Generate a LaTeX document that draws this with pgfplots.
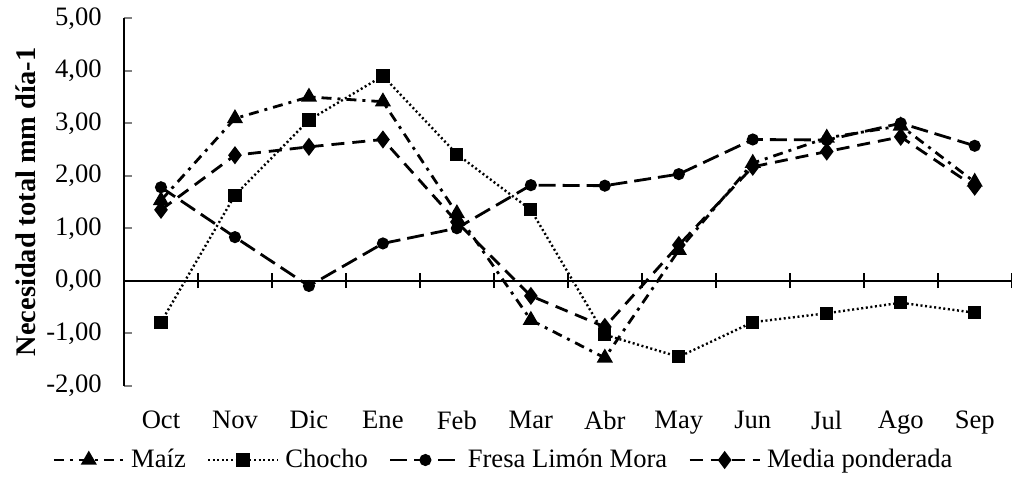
\documentclass[border=0pt]{standalone}
\usepackage{pgfplots}
\pgfplotsset{compat=1.18}
\usepackage{fontspec}
\setmainfont{Liberation Serif}
\begin{document}
\begin{tikzpicture}
\begin{axis}[
  at={(0pt,0pt)}, anchor=south west,
  scale only axis,
  width=443.85pt, height=183.75pt,
  xmin=0.5, xmax=12.5,
  ymin=-2, ymax=5,
  clip=false,
  axis y line*=left,
  axis x line*=bottom,
  x axis line style={draw=none},
  y axis line style={line width=0.8pt},
  xtick={1,...,12},
  xticklabels={Oct,Nov,Dic,Ene,Feb,Mar,Abr,May,Jun,Jul,Ago,Sep},
  xtick style={draw=none},
  ytick={-2,-1,0,1,2,3,4,5},
  ytick style={line width=0.8pt},
  tick align=inside,
  major tick length=4pt,
  /pgf/number format/assume math mode=true,
  yticklabel style={/pgf/number format/fixed, /pgf/number format/fixed zerofill, /pgf/number format/precision=2, /pgf/number format/use comma, /pgf/number format/1000 sep={}},
  tick label style={font=\fontsize{13.3pt}{16pt}\selectfont},
  xticklabel style={yshift=-9pt},
  yticklabel style={xshift=-7.6pt},
  ylabel={Necesidad total mm día-1},
  ylabel style={at={(axis description cs:-0.1104,0.5)}, anchor=center, font=\fontsize{14.2pt}{17pt}\selectfont\bfseries},
  legend columns=4,
  legend style={at={(axis description cs:-0.0811,-0.2022)}, anchor=west, draw=none, inner sep=0pt, fill=none,
    font=\fontsize{13.3pt}{16pt}\selectfont,
    nodes={inner sep=0pt},
    /tikz/every odd column/.append style={column sep=3pt},
    /tikz/every even column/.append style={column sep=10.5pt}},
  legend image code/.code={\draw[mark repeat=2,mark phase=2,#1] plot coordinates {(0pt,0pt)(17.5pt,0pt)(35pt,0pt)};},
  every axis plot/.append style={black, line width=1.4pt},
]
\draw[line width=1.1pt] (axis cs:0.5,0) -- (axis cs:12.5,0);
\pgfplotsinvokeforeach{1.5,2.5,3.5,4.5,5.5,6.5,7.5,8.5,9.5,10.5,11.5,12.5}{
  \draw[line width=0.8pt] ([yshift=-3.75pt]axis cs:#1,0) -- ([yshift=3.75pt]axis cs:#1,0);
}
\addplot[dash pattern=on 5pt off 3pt on 1.5pt off 3pt, mark=triangle*, mark size=3.3pt, mark options={solid}] coordinates {
(1,1.53) (2,3.09) (3,3.50) (4,3.41) (5,1.28) (6,-0.75) (7,-1.47) (8,0.58) (9,2.24) (10,2.72) (11,2.95) (12,1.88)};
\addlegendentry{Maíz}
\addplot[dash pattern=on 1pt off 1.3pt, line width=1.2pt, mark=square*, mark size=2.7pt, mark options={solid}] coordinates {
(1,-0.79) (2,1.63) (3,3.06) (4,3.90) (5,2.41) (6,1.35) (7,-1.03) (8,-1.45) (9,-0.79) (10,-0.62) (11,-0.42) (12,-0.61)};
\addlegendentry{Chocho}
\addplot[dash pattern=on 8.5pt off 3.5pt, mark=*, mark size=2.3pt, mark options={solid}] coordinates {
(1,1.78) (2,0.83) (3,-0.10) (4,0.71) (5,1.00) (6,1.82) (7,1.81) (8,2.03) (9,2.69) (10,2.68) (11,3.00) (12,2.57)};
\addlegendentry{Fresa Limón Mora}
\addplot[dash pattern=on 6.5pt off 4pt, mark=diamond*, mark size=3.4pt, mark options={solid}] coordinates {
(1,1.35) (2,2.39) (3,2.55) (4,2.69) (5,1.12) (6,-0.29) (7,-0.88) (8,0.68) (9,2.17) (10,2.46) (11,2.74) (12,1.79)};
\addlegendentry{Media ponderada}
\end{axis}
\pgfresetboundingbox
\path (-62pt,-46.65pt) rectangle (444pt,192.85pt);
\end{tikzpicture}
\end{document}
